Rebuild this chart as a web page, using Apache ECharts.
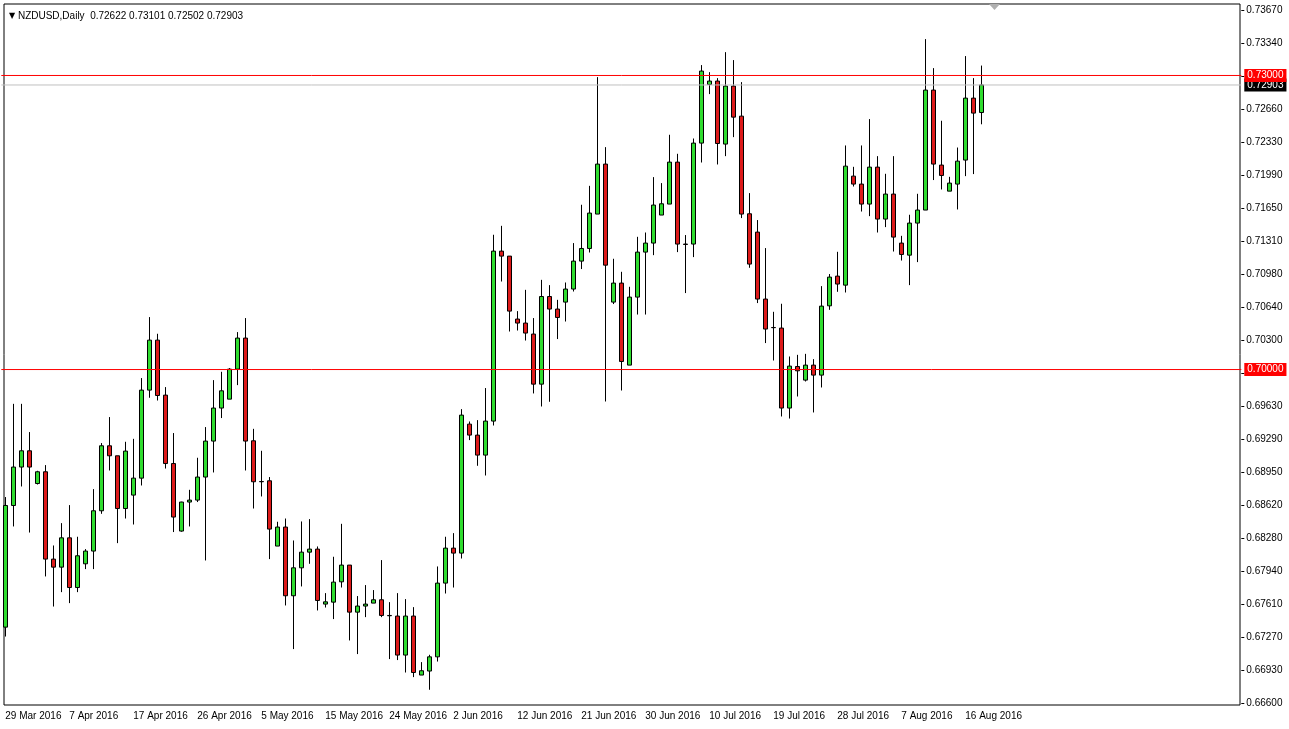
<!DOCTYPE html>
<html>
<head>
<meta charset="utf-8">
<script src="https://cdn.jsdelivr.net/npm/echarts@6/dist/echarts.min.js"></script>
<style>html,body{margin:0;padding:0;background:#fff}#c{width:1289px;height:729px}</style>
</head>
<body>
<div id="c"></div>
<script>
// ---- data ----
const symbolName = 'NZDUSD,Daily';
const categories = [
'29 Mar 2016','30 Mar 2016','31 Mar 2016',
'1 Apr 2016','3 Apr 2016','4 Apr 2016','5 Apr 2016','6 Apr 2016','7 Apr 2016','8 Apr 2016','10 Apr 2016','11 Apr 2016','12 Apr 2016','13 Apr 2016','14 Apr 2016','15 Apr 2016','17 Apr 2016','18 Apr 2016','19 Apr 2016','20 Apr 2016','21 Apr 2016','22 Apr 2016','24 Apr 2016','25 Apr 2016','26 Apr 2016','27 Apr 2016','28 Apr 2016','29 Apr 2016',
'1 May 2016','2 May 2016','3 May 2016','4 May 2016','5 May 2016','6 May 2016','8 May 2016','9 May 2016','10 May 2016','11 May 2016','12 May 2016','13 May 2016','15 May 2016','16 May 2016','17 May 2016','18 May 2016','19 May 2016','20 May 2016','22 May 2016','23 May 2016','24 May 2016','25 May 2016','26 May 2016','27 May 2016','29 May 2016','30 May 2016','31 May 2016',
'1 Jun 2016','2 Jun 2016','3 Jun 2016','5 Jun 2016','6 Jun 2016','7 Jun 2016','8 Jun 2016','9 Jun 2016','10 Jun 2016','12 Jun 2016','13 Jun 2016','14 Jun 2016','15 Jun 2016','16 Jun 2016','17 Jun 2016','19 Jun 2016','20 Jun 2016','21 Jun 2016','22 Jun 2016','23 Jun 2016','24 Jun 2016','26 Jun 2016','27 Jun 2016','28 Jun 2016','29 Jun 2016','30 Jun 2016',
'1 Jul 2016','3 Jul 2016','4 Jul 2016','5 Jul 2016','6 Jul 2016','7 Jul 2016','8 Jul 2016','10 Jul 2016','11 Jul 2016','12 Jul 2016','13 Jul 2016','14 Jul 2016','15 Jul 2016','17 Jul 2016','18 Jul 2016','19 Jul 2016','20 Jul 2016','21 Jul 2016','22 Jul 2016','24 Jul 2016','25 Jul 2016','26 Jul 2016','27 Jul 2016','28 Jul 2016','29 Jul 2016','31 Jul 2016',
'1 Aug 2016','2 Aug 2016','3 Aug 2016','4 Aug 2016','5 Aug 2016','7 Aug 2016','8 Aug 2016','9 Aug 2016','10 Aug 2016','11 Aug 2016','12 Aug 2016','14 Aug 2016','15 Aug 2016','16 Aug 2016','17 Aug 2016','18 Aug 2016'
];
const opens = [
0.67372,0.68613,0.69005,0.69171,0.68837,0.68957,0.68066,0.67984,0.68283,0.67776,
0.68018,0.68148,0.68559,0.69222,0.69120,0.68582,0.68719,0.68892,0.69790,0.70300,
0.69739,0.69041,0.68352,0.68648,0.68668,0.68903,0.69270,0.69607,0.69698,0.70004,
0.70321,0.69273,0.68858,0.68865,0.68199,0.68393,0.67692,0.67977,0.68137,0.68168,
0.67607,0.67627,0.67834,0.68005,0.67525,0.67587,0.67617,0.67651,0.67491,0.67485,
0.67087,0.67485,0.66883,0.66924,0.67069,0.67821,0.68178,0.68127,0.69443,0.69331,
0.69127,0.69474,0.71208,0.71157,0.70515,0.70474,0.70362,0.69851,0.70745,0.70617,
0.70688,0.70821,0.71106,0.71235,0.71586,0.72096,0.70688,0.70882,0.70045,0.70739,
0.71198,0.71290,0.71576,0.71688,0.72116,0.71280,0.71280,0.72310,0.72908,0.72943,
0.72300,0.72892,0.72585,0.71589,0.71402,0.70719,0.70429,0.70423,0.69607,0.70031,
0.69892,0.70045,0.69943,0.70650,0.70953,0.70861,0.71973,0.71892,0.71688,0.72065,
0.71535,0.71790,0.71290,0.71167,0.71494,0.71627,0.72851,0.72086,0.71820,0.71892,
0.72137,0.72769,0.72622
];
const highs = [
0.68699,0.69650,0.69650,0.69362,0.68967,0.69025,0.68205,0.68433,0.68617,0.68294,
0.68168,0.68780,0.69250,0.69515,0.69120,0.69263,0.69293,0.69913,0.70535,0.70365,
0.69821,0.69352,0.68651,0.68773,0.69100,0.69413,0.69892,0.69977,0.70015,0.70382,
0.70525,0.69395,0.69171,0.68903,0.68447,0.68480,0.68256,0.68450,0.68474,0.68195,
0.67719,0.68090,0.68426,0.68005,0.67689,0.67801,0.67750,0.68056,0.67627,0.67719,
0.67658,0.67576,0.67015,0.67090,0.67991,0.68294,0.68331,0.69596,0.69470,0.69484,
0.69811,0.71375,0.71466,0.71157,0.70596,0.70813,0.70525,0.70915,0.70861,0.70711,
0.70888,0.71290,0.71681,0.71874,0.72983,0.72269,0.71130,0.70997,0.70844,0.71354,
0.71398,0.71963,0.71902,0.72395,0.72201,0.71372,0.72357,0.73106,0.73034,0.72973,
0.73238,0.73157,0.72932,0.71800,0.71525,0.71239,0.70589,0.70671,0.70133,0.70150,
0.70160,0.70106,0.70851,0.70974,0.71201,0.72286,0.72068,0.72286,0.72555,0.72177,
0.71997,0.72177,0.71364,0.71579,0.71793,0.73371,0.73075,0.72538,0.71966,0.72265,
0.73198,0.72973,0.73101
];
const lows = [
0.67276,0.68399,0.68807,0.68337,0.68827,0.67889,0.67582,0.67729,0.67617,0.67729,
0.67964,0.67964,0.68528,0.68970,0.68229,0.68480,0.68419,0.68817,0.69712,0.69684,
0.68990,0.68342,0.68345,0.68399,0.68648,0.68052,0.68950,0.69505,0.69698,0.69841,
0.68970,0.68582,0.68705,0.68066,0.68199,0.67593,0.67148,0.67787,0.68018,0.67542,
0.67572,0.67454,0.67776,0.67236,0.67097,0.67474,0.67617,0.67474,0.67046,0.67036,
0.66909,0.66862,0.66883,0.66733,0.67021,0.67715,0.67776,0.68072,0.69280,0.69018,
0.68919,0.69429,0.70898,0.70388,0.70398,0.70296,0.69756,0.69623,0.69671,0.70311,
0.70490,0.70796,0.71025,0.71194,0.71586,0.69674,0.70668,0.69786,0.70045,0.70561,
0.70561,0.71167,0.71576,0.71688,0.71198,0.70780,0.71147,0.72112,0.72810,0.72092,
0.72177,0.72371,0.71545,0.71038,0.70678,0.70270,0.70092,0.69521,0.69500,0.69725,
0.69878,0.69562,0.69817,0.70609,0.70793,0.70786,0.71867,0.71612,0.71565,0.71398,
0.71453,0.71204,0.71112,0.70861,0.71096,0.71627,0.71933,0.71837,0.71820,0.71633,
0.71973,0.71994,0.72502
];
const closes = [
0.68613,0.69005,0.69171,0.69005,0.68957,0.68066,0.67984,0.68283,0.67776,0.68100,
0.68148,0.68559,0.69222,0.69120,0.68582,0.69168,0.68892,0.69790,0.70300,0.69735,
0.69041,0.68495,0.68648,0.68668,0.68903,0.69270,0.69607,0.69783,0.70004,0.70321,
0.69270,0.68855,0.68855,0.68372,0.68393,0.67692,0.67977,0.68137,0.68168,0.67644,
0.67630,0.67831,0.68005,0.67525,0.67587,0.67607,0.67651,0.67491,0.67488,0.67087,
0.67485,0.66909,0.66927,0.67069,0.67821,0.68178,0.68127,0.69535,0.69331,0.69127,
0.69474,0.71208,0.71157,0.70596,0.70474,0.70372,0.69851,0.70745,0.70617,0.70531,
0.70821,0.71106,0.71235,0.71596,0.72096,0.71065,0.70882,0.70082,0.70739,0.71198,
0.71290,0.71678,0.71691,0.72116,0.71280,0.71276,0.72310,0.73045,0.72943,0.72306,
0.72892,0.72575,0.71586,0.71076,0.70719,0.70413,0.70427,0.69607,0.70035,0.69987,
0.70045,0.69943,0.70647,0.70943,0.70872,0.72075,0.71892,0.71688,0.72065,0.71535,
0.71790,0.71351,0.71174,0.71494,0.71627,0.72851,0.72096,0.71980,0.71902,0.72126,
0.72769,0.72616,0.72903
];
// price-axis tick labels, bottom to top
const priceTicks = ['0.66600','0.66930','0.67270','0.67610','0.67940','0.68280','0.68620','0.68950','0.69290','0.69630','0.69970',
'0.70300','0.70640','0.70980','0.71310','0.71650','0.71990','0.72330','0.72660','0.73000','0.73340','0.73670'];
const priceMin = 0.66600, priceMax = 0.73670;
const levelLines = [0.73000, 0.70000];
const emptySlots = 32; // blank bars to the right of the last candle

// ---- build ----
const last = categories.length - 1;
const xCats = categories.concat(new Array(emptySlots).fill(''));
const ohlc = opens.map((o, i) => [o, closes[i], lows[i], highs[i]]);
const font = 'Liberation Sans, Arial, sans-serif';
const headerText = '{t|\u25BC} ' + symbolName + '  ' +
  [opens[last], highs[last], lows[last], closes[last]].map(v => v.toFixed(5)).join(' ');

// horizontal level: a two-point line across the full width (helper x axis 0..1 on grid 0)
function levelSeries(value, color, labelBg, z) {
  return {
    type: 'line', xAxisIndex: 2, yAxisIndex: 0, z: z,
    data: [[0, value], [1, value]],
    color: color, symbol: 'none', showSymbol: false, silent: true, clip: false,
    lineStyle: {color: color, width: 1, type: 'solid', opacity: 1},
    emphasis: {disabled: true},
    endLabel: {show: true, distance: 3, formatter: () => value.toFixed(5),
      color: '#fff', backgroundColor: labelBg, padding: [2, 3, 1, 3], fontSize: 10, fontFamily: font}
  };
}

const chart = echarts.init(document.getElementById('c'), null, {renderer: 'canvas'});
chart.setOption({
  animation: false,
  backgroundColor: '#ffffff',
  title: {
    text: headerText, left: 4, top: 6,
    textStyle: {fontSize: 10, fontWeight: 'normal', color: '#000', fontFamily: font,
      rich: {t: {fontSize: 8, color: '#000', fontFamily: 'DejaVu Sans'}}}
  },
  graphic: [{type: 'polygon', shape: {points: [[989, 4], [1000, 4], [994.5, 10]]}, style: {fill: '#b0b0b0'}, silent: true}],
  grid: [
    {left: 1.3, right: 47.7, top: 9.8, bottom: 26.2, show: false},
    {left: 4, right: 49, top: 4, bottom: 24, show: true, borderColor: '#000', borderWidth: 1, backgroundColor: 'transparent'}
  ],
  xAxis: [
    {type: 'category', gridIndex: 0, data: xCats, boundaryGap: true,
      axisLine: {show: false}, axisTick: {show: false}, splitLine: {show: false},
      axisLabel: {interval: 7, align: 'left', margin: 8, fontSize: 10, color: '#000', fontFamily: font}},
    {type: 'value', gridIndex: 1, min: 0, max: 1, show: false},
    {type: 'value', gridIndex: 0, min: 0, max: 1, show: false, position: 'top'}
  ],
  yAxis: [
    {type: 'value', gridIndex: 0, min: priceMin, max: priceMax, show: false, scale: true},
    {type: 'category', gridIndex: 0, position: 'right', data: priceTicks, boundaryGap: false,
      axisLine: {show: false}, splitLine: {show: false},
      axisTick: {show: true, length: 3, lineStyle: {color: '#000'}},
      axisLabel: {margin: 5, fontSize: 10, color: '#000', fontFamily: font}},
    {type: 'value', gridIndex: 1, show: false}
  ],
  series: [
    {
      type: 'candlestick',
      xAxisIndex: 0, yAxisIndex: 0,
      data: ohlc,
      barWidth: 5,
      z: 2,
      itemStyle: {color: '#2fdc2f', color0: '#dd1a1a', borderColor: '#000', borderColor0: '#000', borderColorDoji: '#000', borderWidth: 1}
    },
    levelSeries(closes[last], '#c0c0c0', '#000', 4),
    levelSeries(levelLines[0], '#ff0000', '#ff0000', 5),
    levelSeries(levelLines[1], '#ff0000', '#ff0000', 5)
  ]
});
</script>
</body>
</html>
